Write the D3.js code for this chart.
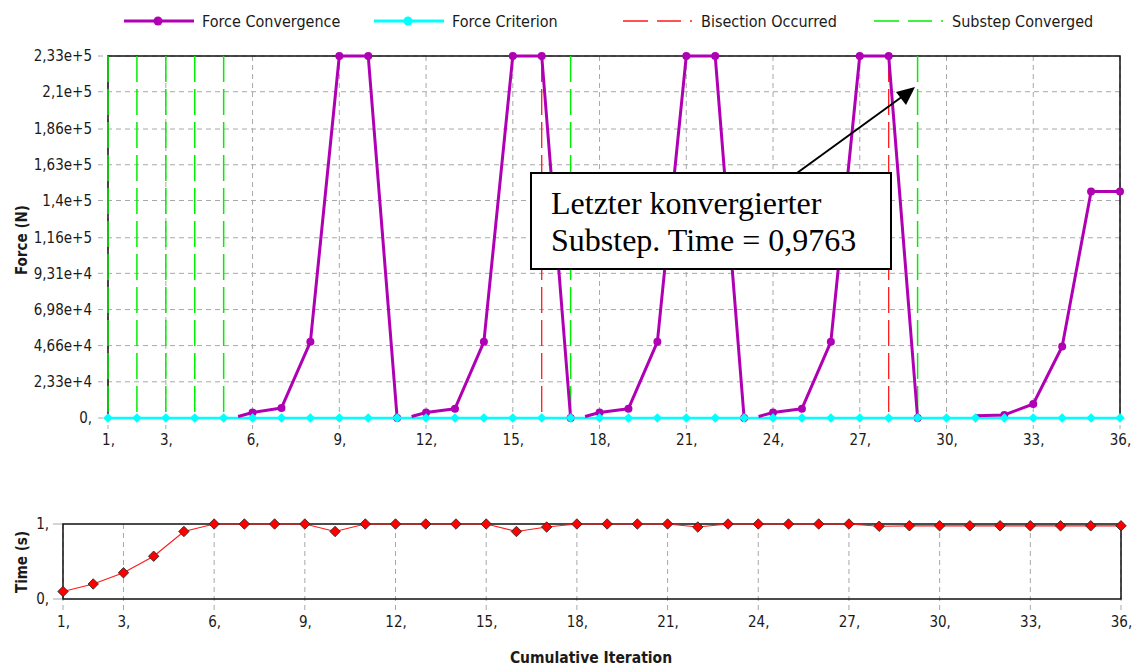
<!DOCTYPE html>
<html>
<head>
<meta charset="utf-8">
<script src="https://cdn.jsdelivr.net/npm/d3@7"></script>
<style>
  body { margin: 0; background: #fff; }
  svg { display: block; }
  text { font-family: "DejaVu Sans Condensed", "DejaVu Sans", sans-serif; font-stretch: condensed; fill: #1a1a1a; }
  .tick text { font-size: 15px; }
  .serif { font-family: "Liberation Serif", "Times New Roman", serif; font-stretch: normal; fill: #000; }
</style>
</head>
<body>
<svg id="chart" width="1139" height="670"></svg>
<script>

/////// Data

var iterations = [1, 2, 3, 4, 5, 6, 7, 8, 9, 10, 11, 12, 13, 14, 15, 16, 17, 18,
                  19, 20, 21, 22, 23, 24, 25, 26, 27, 28, 29, 30, 31, 32, 33, 34, 35, 36];

// force convergence, drawn as separate pieces (gaps after each substep)
var convX1 = [5.5, 6, 7, 8, 9, 10, 11];
var convY1 = [1000, 3500, 6500, 49000, 233000, 233000, 0];
var convX2 = [11.5, 12, 13, 14, 15, 16, 17];
var convY2 = [1000, 3500, 6000, 49000, 233000, 233000, 0];
var convX3 = [17.5, 18, 19, 20, 21, 22, 23];
var convY3 = [1000, 3500, 6000, 49000, 233000, 233000, 0];
var convX4 = [23.5, 24, 25, 26, 27, 28, 29];
var convY4 = [1000, 3500, 6000, 49000, 233000, 233000, 0];
var convX5 = [31, 32, 33, 34, 35, 36];
var convY5 = [1500, 2000, 9000, 46000, 145800, 145800];

var forceCriterion = [0, 0, 0, 0, 0, 0, 0, 0, 0, 0, 0, 0, 0, 0, 0, 0, 0, 0,
                      0, 0, 0, 0, 0, 0, 0, 0, 0, 0, 0, 0, 0, 0, 0, 0, 0, 0];

var bisections = [16, 28];
var substepsConverged = [1, 2, 3, 4, 5, 17, 29];

var timeValues = [0.1, 0.2, 0.35, 0.57, 0.9, 1, 1, 1, 1, 0.9, 1, 1, 1, 1, 1, 0.9, 0.96, 1,
                  1, 1, 1, 0.96, 1, 1, 1, 1, 1, 0.97, 0.976, 0.976, 0.976, 0.976, 0.976, 0.976, 0.976, 0.976];

var xTicks = [1, 3, 6, 9, 12, 15, 18, 21, 24, 27, 30, 33, 36];
var xTickLabels = ['1,', '3,', '6,', '9,', '12,', '15,', '18,', '21,', '24,', '27,', '30,', '33,', '36,'];
var forceTicks = [0, 23300, 46600, 69800, 93100, 116000, 140000, 163000, 186000, 210000, 233000];
var forceTickLabels = ['0,', '2,33e+4', '4,66e+4', '6,98e+4', '9,31e+4', '1,16e+5', '1,4e+5',
                       '1,63e+5', '1,86e+5', '2,1e+5', '2,33e+5'];
var timeTicks = [0, 1];
var timeTickLabels = ['0,', '1,'];

var legendNames = ['Force Convergence', 'Force Criterion', 'Bisection Occurred', 'Substep Converged'];

var purple = '#b000b4', cyan = '#00ffff', red = '#ff1a1a', green = '#00ee00', grid = '#a8a8a8';

var svg = d3.select('#chart');

var styleAxis = function (g) {
  g.select('.domain').remove();
  g.attr('font-size', null)
   .attr('font-family', null);
  g.selectAll('text')
      .attr('fill', '#1a1a1a')
      .style('font-size', '15px');
};

/////// Top chart

var x = d3.scaleLinear().domain([1, 36]).range([108, 1120]);
var y = d3.scaleLinear().domain([0, 233000]).range([418, 56]);

var forceG = svg.append('g');

// horizontal grid (sticks out left of the axis)
forceG.selectAll('.hgrid')
    .data(forceTicks)
  .enter().append('line')
      .attr('x1', 98).attr('x2', 1120)
      .attr('y1', function (d) { return y(d); })
      .attr('y2', function (d) { return y(d); })
      .attr('stroke', grid)
      .attr('stroke-dasharray', '5,4');

// vertical grid (sticks out below the axis)
forceG.selectAll('.vgrid')
    .data(xTicks)
  .enter().append('line')
      .attr('x1', function (d) { return x(d); })
      .attr('x2', function (d) { return x(d); })
      .attr('y1', 56).attr('y2', 429)
      .attr('stroke', grid)
      .attr('stroke-dasharray', '5,4');

// frame
forceG.append('rect')
    .attr('x', x(1)).attr('y', y(233000))
    .attr('width', x(36) - x(1)).attr('height', y(0) - y(233000))
    .attr('fill', 'none')
    .attr('stroke', '#111')
    .attr('stroke-width', 1.5);

// axis labels via d3 axes (no domain line, no tick lines)
var xAxisTop = d3.axisBottom(x)
    .tickValues(xTicks)
    .tickSize(0)
    .tickPadding(16)
    .tickFormat(function (d, i) { return xTickLabels[i]; });

var yAxisTop = d3.axisLeft(y)
    .tickValues(forceTicks)
    .tickSize(0)
    .tickPadding(16)
    .tickFormat(function (d, i) { return forceTickLabels[i]; });

forceG.append('g')
    .attr('transform', 'translate(0,' + y(0) + ')')
    .call(xAxisTop)
    .call(styleAxis);

forceG.append('g')
    .attr('transform', 'translate(' + x(1) + ',0)')
    .call(yAxisTop)
    .call(styleAxis);

// bisection and substep vertical lines
forceG.selectAll('.bisect')
    .data(bisections)
  .enter().append('line')
      .attr('x1', function (d) { return x(d); })
      .attr('x2', function (d) { return x(d); })
      .attr('y1', y(233000)).attr('y2', y(0))
      .attr('stroke', red)
      .attr('stroke-width', 1.3)
      .attr('stroke-dasharray', '26,7');

forceG.selectAll('.substep')
    .data(substepsConverged)
  .enter().append('line')
      .attr('x1', function (d) { return x(d); })
      .attr('x2', function (d) { return x(d); })
      .attr('y1', y(233000)).attr('y2', y(0))
      .attr('stroke', green)
      .attr('stroke-width', 1.5)
      .attr('stroke-dasharray', '26,7');

// force criterion
var critLine = d3.line()
    .x(function (d, i) { return x(iterations[i]); })
    .y(function (d) { return y(d); });

forceG.append('path')
    .attr('d', critLine(forceCriterion))
    .attr('fill', 'none')
    .attr('stroke', cyan)
    .attr('stroke-width', 2.5);

// force convergence pieces
var pieces = [[convX1, convY1], [convX2, convY2], [convX3, convY3], [convX4, convY4], [convX5, convY5]];

var convLine = d3.line()
    .x(function (d) { return x(d[0]); })
    .y(function (d) { return y(d[1]); });

pieces.forEach(function (p) {
  var pts = p[0].map(function (v, i) { return [v, p[1][i]]; });
  forceG.append('path')
      .attr('d', convLine(pts))
      .attr('fill', 'none')
      .attr('stroke', purple)
      .attr('stroke-width', 3)
      .attr('stroke-linejoin', 'round');
  forceG.selectAll(null)
      .data(pts.slice(1))
    .enter().append('circle')
        .attr('cx', function (d) { return x(d[0]); })
        .attr('cy', function (d) { return y(d[1]); })
        .attr('r', 4)
        .attr('fill', purple);
});

// criterion markers on top
forceG.selectAll('.crit')
    .data(forceCriterion)
  .enter().append('path')
      .attr('transform', function (d, i) { return 'translate(' + x(iterations[i]) + ',' + y(d) + ')'; })
      .attr('d', d3.symbol(d3.symbolDiamond2, 60))
      .attr('fill', cyan);

forceG.append('text')
    .attr('transform', 'translate(27,' + 240 + ') rotate(-90)')
    .attr('text-anchor', 'middle')
    .attr('font-size', 15)
    .attr('font-weight', 'bold')
    .text('Force (N)');

/////// Annotation

var note = svg.append('g');

note.append('line')
    .attr('x1', 797).attr('y1', 173)
    .attr('x2', 903).attr('y2', 96)
    .attr('stroke', '#000')
    .attr('stroke-width', 2);

note.append('path')
    .attr('d', 'M915,87 L896,92 L906,105 Z')
    .attr('fill', '#000');

note.append('rect')
    .attr('x', 531).attr('y', 173)
    .attr('width', 360).attr('height', 96)
    .attr('fill', '#fff')
    .attr('stroke', '#000')
    .attr('stroke-width', 2);

note.selectAll('.note')
    .data(['Letzter konvergierter', 'Substep. Time = 0,9763'])
  .enter().append('text')
      .attr('class', 'serif')
      .attr('x', 551)
      .attr('y', function (d, i) { return 214 + i * 37; })
      .attr('font-size', 32)
      .text(function (d) { return d; });

/////// Bottom chart

var x2 = d3.scaleLinear().domain([1, 36]).range([63, 1121]);
var y2 = d3.scaleLinear().domain([0, 1]).range([599, 524]);

var timeG = svg.append('g');

timeG.selectAll('.vgrid2')
    .data(xTicks)
  .enter().append('line')
      .attr('x1', function (d) { return x2(d); })
      .attr('x2', function (d) { return x2(d); })
      .attr('y1', 524).attr('y2', 610)
      .attr('stroke', grid)
      .attr('stroke-dasharray', '5,4');

timeG.selectAll('.hgrid2')
    .data(timeTicks)
  .enter().append('line')
      .attr('x1', 53).attr('x2', x2(1))
      .attr('y1', function (d) { return y2(d); })
      .attr('y2', function (d) { return y2(d); })
      .attr('stroke', grid);

timeG.append('rect')
    .attr('x', x2(1)).attr('y', y2(1))
    .attr('width', x2(36) - x2(1)).attr('height', y2(0) - y2(1))
    .attr('fill', 'none')
    .attr('stroke', '#111')
    .attr('stroke-width', 1.5);

var xAxisBottom = d3.axisBottom(x2)
    .tickValues(xTicks)
    .tickSize(0)
    .tickPadding(17)
    .tickFormat(function (d, i) { return xTickLabels[i]; });

var yAxisBottom = d3.axisLeft(y2)
    .tickValues(timeTicks)
    .tickSize(0)
    .tickPadding(14)
    .tickFormat(function (d, i) { return timeTickLabels[i]; });

timeG.append('g')
    .attr('transform', 'translate(0,' + y2(0) + ')')
    .call(xAxisBottom)
    .call(styleAxis);

timeG.append('g')
    .attr('transform', 'translate(' + x2(1) + ',0)')
    .call(yAxisBottom)
    .call(styleAxis);

var timeLine = d3.line()
    .x(function (d, i) { return x2(iterations[i]); })
    .y(function (d) { return y2(d); });

timeG.append('path')
    .attr('d', timeLine(timeValues))
    .attr('fill', 'none')
    .attr('stroke', red)
    .attr('stroke-width', 1.2);

timeG.selectAll('.tmark')
    .data(timeValues)
  .enter().append('path')
      .attr('transform', function (d, i) { return 'translate(' + x2(iterations[i]) + ',' + y2(d) + ')'; })
      .attr('d', d3.symbol(d3.symbolDiamond2, 70))
      .attr('fill', '#f00')
      .attr('stroke', '#222')
      .attr('stroke-width', 0.8);

timeG.append('text')
    .attr('transform', 'translate(27,' + 562 + ') rotate(-90)')
    .attr('text-anchor', 'middle')
    .attr('font-size', 15)
    .attr('font-weight', 'bold')
    .text('Time (s)');

timeG.append('text')
    .attr('x', 591).attr('y', 663)
    .attr('text-anchor', 'middle')
    .attr('font-size', 15.5)
    .attr('font-weight', 'bold')
    .text('Cumulative Iteration');

/////// Legend

var legendX = [124, 374, 623, 874];
var legend = svg.append('g').attr('transform', 'translate(0,21)');

legend.selectAll('.item')
    .data(legendNames)
  .enter().append('g')
      .attr('transform', function (d, i) { return 'translate(' + legendX[i] + ',0)'; })
      .each(function (d, i) {
        var g = d3.select(this);
        var col = [purple, cyan, red, green][i];
        if (i < 2) {
          g.append('line').attr('x1', 0).attr('x2', 70)
              .attr('stroke', col).attr('stroke-width', 3);
          g.append('circle').attr('cx', 34).attr('r', 4.5).attr('fill', col);
        } else {
          g.append('line').attr('x1', 0).attr('x2', 71)
              .attr('stroke', col).attr('stroke-width', 1.5)
              .attr('stroke-dasharray', '25,9,24,9,2,20');
        }
        g.append('text')
            .attr('x', 78).attr('y', 6)
            .attr('font-size', 16)
            .text(d);
      });

</script>
</body>
</html>
